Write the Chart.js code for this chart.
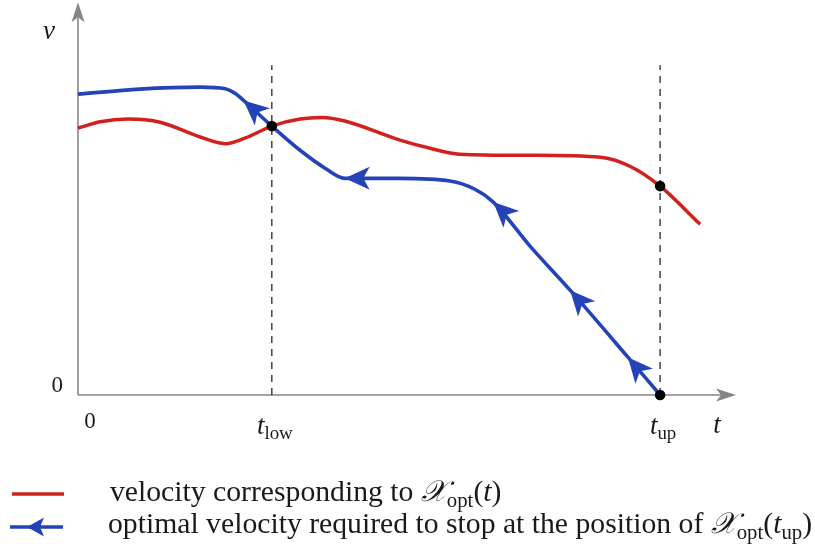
<!DOCTYPE html>
<html>
<head>
<meta charset="utf-8">
<script src="https://cdn.jsdelivr.net/npm/chart.js@4/dist/chart.umd.min.js"></script>
<style>
  html, body { margin: 0; padding: 0; background: #fff; }
  canvas { display: block; }
</style>
</head>
<body>
<canvas id="c" width="815" height="548"></canvas>
<script>
// Characteristic instants on the t axis (axis runs 0..100)
const tLow = 29.5;
const tUp = 88.6;

// Velocity corresponding to the optimal trajectory X_opt(t)
const redT = [0, 3.4, 7.6, 12.5, 18.6, 22.4, 25.4, 29.5, 33.8, 37.1, 40.6, 49.0, 53.6, 58.1, 68.8, 79.5, 84.0, 88.6, 94.7];
const redV = [68.5, 70.1, 70.8, 70.0, 66.2, 64.5, 65.9, 69.0, 70.8, 71.2, 70.3, 65.4, 63.3, 61.8, 61.5, 61.0, 58.7, 53.6, 43.8];

// Optimal velocity required to stop at the position of X_opt(tUp), traced backwards from tUp
const blueT = [0, 9.4, 18.6, 22.4, 24.0, 25.2, 29.5, 33.8, 37.6, 40.6, 49.0, 56.6, 60.4, 63.2, 68.8, 74.9, 83.7, 88.6];
const blueV = [77.2, 78.5, 79.0, 78.6, 77.3, 75.6, 69.0, 62.8, 58.2, 55.6, 55.6, 54.9, 52.8, 49.5, 38.2, 26.9, 9.7, 0];
// Points of the blue curve that carry a direction arrow
const blueArrowIdx = [5, 9, 13, 15, 16];

// Height reached by the dashed markers
const markerTop = 84.6;

// Tick labels: [main, subscript]
const xTickValues = [0, tLow, tUp];
const xTickLabels = [['0', ''], ['t', 'low'], ['t', 'up']];
const yTickValues = [0];
const yTickLabels = ['0'];
const xAxisName = 't';
const yAxisName = 'v';

// Legend entries as rich text runs: r = roman, i = italic, b = subscript, x = script letter
const legendRed = [['velocity corresponding to ', 'r'], ['\u{1D4B3}', 'x'], ['opt', 'b'], ['(', 'r'], ['t', 'i'], [')', 'r']];
const legendBlue = [['optimal velocity required to stop at the position of ', 'r'], ['\u{1D4B3}', 'x'], ['opt', 'b'], ['(', 'r'], ['t', 'i'], ['up', 'b'], [')', 'r']];

const RED = '#d21f1f';
const BLUE = '#2443b8';
const GREY = '#858585';
const SERIF = '"Liberation Serif", "DejaVu Serif", serif';
const SCRIPT = '"DejaVu Serif", "DejaVu Sans", "Noto Sans", serif';

const pts = (xs, ys) => xs.map((x, i) => ({ x: x, y: ys[i] }));

// Filled arrowhead with a notched back, tip at (x, y), pointing along ang
function stealth(ctx, x, y, ang, len, hw, notch, color) {
  const c = Math.cos(ang), s = Math.sin(ang);
  const bx = x - len * c, by = y - len * s;
  const px = -s, py = c;
  ctx.beginPath();
  ctx.moveTo(x, y);
  ctx.lineTo(bx + hw * px, by + hw * py);
  ctx.lineTo(x - (len - notch) * c, y - (len - notch) * s);
  ctx.lineTo(bx - hw * px, by - hw * py);
  ctx.closePath();
  ctx.fillStyle = color;
  ctx.fill();
}

function runFont(kind, size) {
  if (kind === 'i') return 'italic ' + size + 'px ' + SERIF;
  if (kind === 'b') return (size * 0.7).toFixed(1) + 'px ' + SERIF;
  if (kind === 'x') return 'italic ' + size + 'px ' + SCRIPT;
  return size + 'px ' + SERIF;
}

function richWidth(ctx, parts, size) {
  let w = 0;
  parts.forEach(p => { ctx.font = runFont(p[1], size); w += ctx.measureText(p[0]).width; });
  return w;
}

function drawRich(ctx, x, y, parts, size, align) {
  const w = richWidth(ctx, parts, size);
  let cx = align === 'center' ? x - w / 2 : align === 'right' ? x - w : x;
  ctx.textAlign = 'left';
  ctx.textBaseline = 'alphabetic';
  ctx.fillStyle = '#1a1a1a';
  parts.forEach(p => {
    ctx.font = runFont(p[1], size);
    const dy = p[1] === 'b' ? size * 0.2 : 0;
    ctx.fillText(p[0], cx, y + dy);
    cx += ctx.measureText(p[0]).width;
  });
  return w;
}

const decorations = {
  id: 'decorations',
  beforeDatasetsDraw(chart) {
    const ctx = chart.ctx, a = chart.chartArea;
    const xs = chart.scales.x, ys = chart.scales.y;
    const x0 = xs.getPixelForValue(0), y0 = ys.getPixelForValue(0);
    ctx.save();
    ctx.strokeStyle = GREY;
    ctx.lineWidth = 1.6;
    ctx.beginPath();
    ctx.moveTo(x0, y0);
    ctx.lineTo(x0, a.top + 12);
    ctx.moveTo(x0, y0);
    ctx.lineTo(a.right - 12, y0);
    ctx.stroke();
    stealth(ctx, x0, a.top - 3, -Math.PI / 2, 20, 6.5, 5, GREY);
    stealth(ctx, a.right + 1, y0, 0, 20, 6.5, 5, GREY);
    ctx.restore();
  },
  afterDatasetsDraw(chart) {
    const ctx = chart.ctx, a = chart.chartArea;
    const xs = chart.scales.x, ys = chart.scales.y;
    const x0 = xs.getPixelForValue(0), y0 = ys.getPixelForValue(0);
    ctx.save();

    // direction arrows on the blue curve (pointing towards decreasing t)
    const meta = chart.getDatasetMeta(1);
    blueArrowIdx.forEach(i => {
      const el = meta.data[i];
      const ang = Math.atan2(el.cp1y - el.cp2y, el.cp1x - el.cp2x);
      stealth(ctx, el.x, el.y, ang, 25, 11.5, 6.5, BLUE);
    });

    // axis names and tick labels
    drawRich(ctx, x0 - 29, a.top + 34, [[yAxisName, 'i']], 27, 'center');
    drawRich(ctx, a.right - 18, y0 + 38, [[xAxisName, 'i']], 27, 'center');
    yTickValues.forEach((v, i) => {
      drawRich(ctx, x0 - 15, ys.getPixelForValue(v) - 3, [[yTickLabels[i], 'r']], 23, 'right');
    });
    xTickValues.forEach((v, i) => {
      const [m, s] = xTickLabels[i];
      if (!s) {
        drawRich(ctx, xs.getPixelForValue(v) + 12, y0 + 33, [[m, 'r']], 23, 'center');
      } else {
        drawRich(ctx, xs.getPixelForValue(v) + 3, y0 + 39, [[m, 'i'], [s, 'b']], 27, 'center');
      }
    });

    // legend
    ctx.lineWidth = 3.6;
    ctx.strokeStyle = RED;
    ctx.beginPath(); ctx.moveTo(12, 494); ctx.lineTo(64, 494); ctx.stroke();
    ctx.strokeStyle = BLUE;
    ctx.beginPath(); ctx.moveTo(10, 527); ctx.lineTo(63, 527); ctx.stroke();
    stealth(ctx, 27, 527, Math.PI, 17, 9.5, 4, BLUE);

    const target = 704;
    const size = 21 * target / richWidth(ctx, legendBlue, 21);
    drawRich(ctx, 110, 501, legendRed, size, 'left');
    drawRich(ctx, 108, 533, legendBlue, size, 'left');
    ctx.restore();
  }
};

new Chart(document.getElementById('c'), {
  type: 'line',
  data: {
    datasets: [
      {
        // intersection / end points
        type: 'scatter',
        data: [
          { x: tLow, y: redV[redT.indexOf(tLow)] },
          { x: tUp, y: redV[redT.indexOf(tUp)] },
          { x: tUp, y: blueV[blueT.indexOf(tUp)] }
        ],
        pointRadius: 5.3,
        pointBackgroundColor: '#000',
        pointBorderWidth: 0,
        showLine: false,
        order: 0,
        clip: false
      },
      {
        data: pts(blueT, blueV),
        borderColor: BLUE,
        borderWidth: 3.6,
        pointRadius: 0,
        cubicInterpolationMode: 'monotone',
        order: 1,
        clip: false
      },
      {
        data: pts(redT, redV),
        borderColor: RED,
        borderWidth: 3.5,
        pointRadius: 0,
        cubicInterpolationMode: 'monotone',
        order: 2,
        clip: false
      },
      {
        data: [{ x: tLow, y: 0 }, { x: tLow, y: markerTop }],
        borderColor: '#333',
        borderWidth: 1.4,
        borderDash: [7, 6],
        pointRadius: 0,
        order: 3
      },
      {
        data: [{ x: tUp, y: 0 }, { x: tUp, y: markerTop }],
        borderColor: '#333',
        borderWidth: 1.4,
        borderDash: [7, 6],
        pointRadius: 0,
        order: 3
      }
    ]
  },
  options: {
    responsive: false,
    animation: false,
    devicePixelRatio: 1,
    layout: { padding: { left: 78, right: 80, top: 5, bottom: 153 } },
    scales: {
      x: { type: 'linear', min: 0, max: 100, display: false },
      y: { type: 'linear', min: 0, max: 100, display: false }
    },
    plugins: { legend: { display: false }, tooltip: { enabled: false } },
    events: []
  },
  plugins: [decorations]
});
</script>
</body>
</html>
